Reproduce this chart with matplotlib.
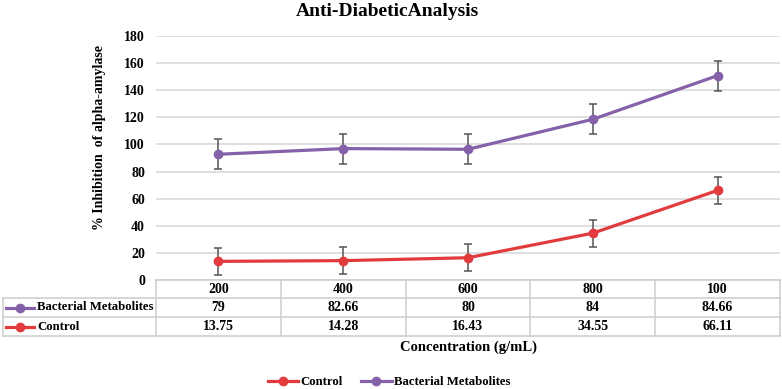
import numpy as np
import matplotlib
matplotlib.use("Agg")
from matplotlib import pyplot as plt
from matplotlib.lines import Line2D

# Dane
concentrations = ["200", "400", "600", "800", "100"]
control = [13.75, 14.28, 16.43, 34.55, 66.11]
bacterial = [79, 82.66, 80, 84, 84.66]
control_err = [10, 10, 10, 10, 10]
bacterial_err = [11, 11, 11, 11, 11]

purple = "#8461a8"
red = "#e23b3d"
grid_c = "#d9d9d9"
FAM = ["Liberation Serif", "DejaVu Serif"]

plt.rcParams["font.family"] = FAM
plt.rcParams["font.weight"] = "bold"

W, H = 782, 389
fig = plt.figure(figsize=(W / 100, H / 100), dpi=100)

# obszar wykresu w pikselach
L, R, T, B = 156, 780, 36, 280
ax = fig.add_axes([L / W, 1 - B / H, (R - L) / W, (B - T) / H])

x = np.arange(len(concentrations))
stacked = np.array(control) + np.array(bacterial)  # wykres skumulowany

ax.errorbar(x, control, yerr=control_err, color=red, lw=2.3, marker="o", ms=6,
            ecolor="#555555", elinewidth=1.1, capsize=3, capthick=1.1, zorder=3)
ax.errorbar(x, stacked, yerr=bacterial_err, color=purple, lw=2.3, marker="o", ms=6,
            ecolor="#555555", elinewidth=1.1, capsize=3, capthick=1.1, zorder=3)

ax.set_xlim(-0.5, len(x) - 0.5)
ax.set_ylim(0, 180)
ax.set_yticks(range(0, 181, 20))
ax.yaxis.grid(True, color=grid_c, lw=1.2)
ax.set_axisbelow(True)
for s in ax.spines.values():
    s.set_visible(False)
ax.tick_params(axis="y", length=0, labelsize=10, pad=8)
ax.tick_params(axis="x", length=0, labelbottom=False)
for t in ax.get_yticklabels():
    t.set_fontweight("bold")
    t.set_family(FAM)
ax.set_ylabel("% Inhibition  of alpha-amylase", fontsize=10, fontweight="bold", family=FAM)
ax.yaxis.set_label_coords((106 - L) / (R - L), (B - 137) / (B - T))

fig.text(387 / W, 1 - 12 / H, "Anti-DiabeticAnalysis", ha="center", va="center",
         fontsize=14, fontweight="bold", family=FAM)

# Tabela danych
TL, TR, TT, TB = 3, 780, 280, 336
upp = (R - L) / len(x)  # pikseli na kategorie
def px2x(px):
    return -0.5 + (px - L) / upp

axt = fig.add_axes([TL / W, 1 - TB / H, (TR - TL) / W, (TB - TT) / H])
axt.set_xlim(px2x(TL), px2x(TR))
axt.set_ylim(TB, TT)
axt.axis("off")

row_y = [280, 298, 317, 336]
lc = "#cfcfcf"
axt.plot([-0.5, px2x(TR)], [row_y[0]] * 2, color=lc, lw=1.2, clip_on=False)
for yy in row_y[1:]:
    axt.plot([px2x(TL), px2x(TR)], [yy] * 2, color=lc, lw=1.2, clip_on=False)
axt.plot([px2x(TL)] * 2, [row_y[1], row_y[3]], color=lc, lw=1.2, clip_on=False)
for i in range(len(x) + 1):
    axt.plot([i - 0.5] * 2, [row_y[0], row_y[3]], color=lc, lw=1.2, clip_on=False)

def fmt(v):
    return f"{v:g}"

tk = dict(ha="center", va="center", fontsize=10, fontweight="bold", family=FAM)
for i, c in enumerate(concentrations):
    axt.text(i, 289.5, c, **tk)
    axt.text(i, 307.5, fmt(bacterial[i]), **tk)
    axt.text(i, 326.5, fmt(control[i]), **tk)

for yy, col, name in [(307.5, purple, "Bacterial Metabolites"), (326.5, red, "Control")]:
    axt.plot([px2x(6), px2x(34)], [yy, yy], color=col, lw=2.3, clip_on=False)
    axt.plot([px2x(20)], [yy], "o", color=col, ms=6, clip_on=False)
    axt.text(px2x(37), yy, name, ha="left", va="center", fontsize=9.2,
             fontweight="bold", family=FAM)

fig.text((L + R) / 2 / W, 1 - 347 / H, "Concentration (g/mL)", ha="center", va="center",
         fontsize=10.5, fontweight="bold", family=FAM)

handles = [Line2D([], [], color=red, lw=2.3, marker="o", ms=6),
           Line2D([], [], color=purple, lw=2.3, marker="o", ms=6)]
leg = fig.legend(handles, ["Control", "Bacterial Metabolites"], loc="center",
                 bbox_to_anchor=(389 / W, 1 - 382 / H), ncol=2, frameon=False,
                 prop={"weight": "bold", "size": 9.2, "family": FAM}, handlelength=2.4,
                 handletextpad=0.2, columnspacing=1.4)

fig.savefig("out.png", dpi=100)
